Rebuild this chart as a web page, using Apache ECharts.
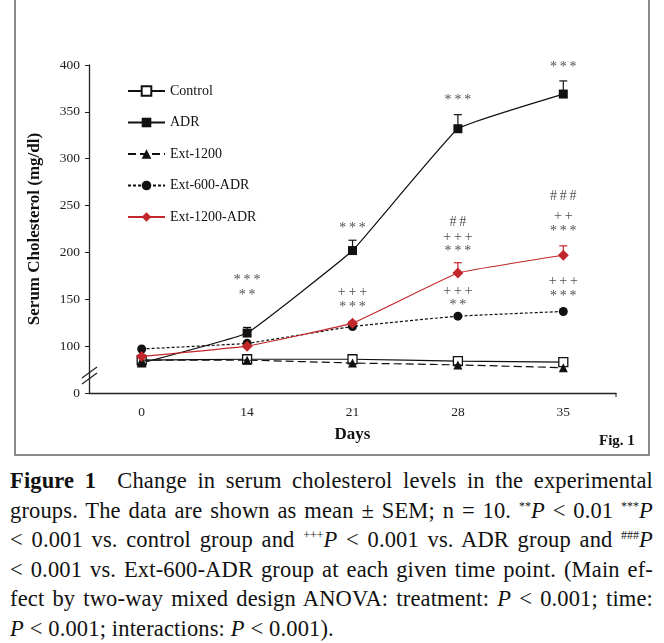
<!DOCTYPE html>
<html>
<head>
<meta charset="utf-8">
<script src="https://cdn.jsdelivr.net/npm/echarts@6/dist/echarts.min.js"></script>
<style>
  html, body { margin: 0; padding: 0; background: #fff; }
  #wrap { position: relative; width: 664px; height: 643px; overflow: hidden; }
  #chart { position: absolute; left: 0; top: 0; width: 664px; height: 462px; }
  #cap { position: absolute; left: 10px; top: 466px; width: 643px; font-family: "Liberation Serif", "DejaVu Serif", serif; font-size: 22.5px; line-height: 29.6px; color: #111; letter-spacing: 0.15px; }
  #cap .ln { text-align: justify; text-align-last: justify; white-space: nowrap; height: 29.6px; }
  #cap .ln.last { text-align-last: left; }
  #cap sup { font-size: 12px; vertical-align: 8px; line-height: 0; letter-spacing: 0; }
  #cap i { font-style: italic; }
</style>
</head>
<body>
<div id="wrap">
  <div id="chart"></div>
  <div id="cap">
    <div class="ln"><b>Figure 1</b>&nbsp; Change in serum cholesterol levels in the experimental</div>
    <div class="ln">groups. The data are shown as mean ± SEM; n = 10. <sup>**</sup><i>P</i> &lt; 0.01 <sup>***</sup><i>P</i></div>
    <div class="ln">&lt; 0.001 vs. control group and <sup>+++</sup><i>P</i> &lt; 0.001 vs. ADR group and <sup>###</sup><i>P</i></div>
    <div class="ln">&lt; 0.001 vs. Ext-600-ADR group at each given time point. (Main ef-</div>
    <div class="ln">fect by two-way mixed design ANOVA: treatment: <i>P</i> &lt; 0.001; time:</div>
    <div class="ln last"><i>P</i> &lt; 0.001; interactions: <i>P</i> &lt; 0.001).</div>
  </div>
</div>
<script>
// ---- data ----
const days = ['0', '14', '21', '28', '35'];
const yTicks = [50, 100, 150, 200, 250, 300, 350, 400]; // 50 drawn as the broken-axis "0"
const control = [85, 86, 86, 84, 83];
const adr = [82, 114, 202, 332, 369];
const ext1200 = [85, 85, 82, 80, 77];
const ext600adr = [97, 103, 121, 132, 137];
const ext1200adr = [89, 100, 124.5, 178, 197];
const adrErr = [2, 6, 11, 15, 14];
const ext1200adrErr = [2, 2, 2, 11, 10];
// significance marks: [day index, value position, text]
const marks = [
  [1, 170, '***'], [1, 154, '**'],
  [2, 225.5, '***'], [2, 157, '+++'], [2, 141.5, '***'],
  [3, 362, '***'], [3, 232, '##'], [3, 216, '+++'], [3, 201, '***'], [3, 158.5, '+++'], [3, 143.5, '**'],
  [4, 397, '***'], [4, 259.5, '###'], [4, 238, '++'], [4, 222, '***'], [4, 169, '+++'], [4, 153, '***']
];

const RED = '#c3272b';
const SERIF = '"Liberation Serif", "DejaVu Serif", serif';

const chart = echarts.init(document.getElementById('chart'), null, { renderer: 'canvas' });

function errSeries(name, means, errs, color) {
  return {
    type: 'custom',
    name: name + '-err',
    silent: true,
    z: 1,
    data: means.map((m, i) => [i, m, m + errs[i]]),
    renderItem: function (params, api) {
      const p0 = api.coord([api.value(0), api.value(1)]);
      const p1 = api.coord([api.value(0), api.value(2)]);
      const w = 4;
      return {
        type: 'group',
        children: [
          { type: 'line', shape: { x1: p0[0], y1: p0[1], x2: p1[0], y2: p1[1] }, style: { stroke: color, lineWidth: 1.2 } },
          { type: 'line', shape: { x1: p1[0] - w, y1: p1[1], x2: p1[0] + w, y2: p1[1] }, style: { stroke: color, lineWidth: 1.2 } }
        ]
      };
    }
  };
}

const lineBase = { type: 'line', smooth: 0.08, symbolSize: 9, z: 3 };

chart.setOption({
  animation: false,
  backgroundColor: '#fff',
  grid: { left: 89, right: 48, top: 65, bottom: 69 },
  legend: {
    data: ['Control', 'ADR', 'Ext-1200', 'Ext-600-ADR', 'Ext-1200-ADR'],
    orient: 'vertical',
    left: 122,
    top: 79,
    itemWidth: 37,
    itemHeight: 12,
    itemGap: 17.5,
    textStyle: { fontFamily: SERIF, fontSize: 14, color: '#111' }
  },
  xAxis: {
    type: 'category',
    data: days,
    boundaryGap: true,
    name: 'Days',
    nameLocation: 'middle',
    nameGap: 33,
    nameTextStyle: { fontFamily: SERIF, fontSize: 17, fontWeight: 'bold', color: '#111' },
    axisLine: { lineStyle: { color: '#222', width: 1.3 } },
    axisTick: { alignWithLabel: true, length: 4, lineStyle: { color: '#222' } },
    axisLabel: { fontFamily: SERIF, fontSize: 13.5, color: '#222', margin: 12 },
    splitLine: { show: false }
  },
  yAxis: {
    type: 'value',
    min: yTicks[0],
    max: yTicks[yTicks.length - 1],
    interval: 50,
    name: 'Serum Cholesterol (mg/dl)',
    nameLocation: 'middle',
    nameGap: 46,
    nameTextStyle: { fontFamily: SERIF, fontSize: 17, fontWeight: 'bold', color: '#111' },
    axisLine: { show: true, lineStyle: { color: '#222', width: 1.3 } },
    axisTick: { show: true, length: 4, lineStyle: { color: '#222' } },
    axisLabel: { fontFamily: SERIF, fontSize: 13.5, color: '#222', margin: 9, formatter: v => (v === yTicks[0] ? '0' : String(v)) },
    splitLine: { show: false }
  },
  series: [
    errSeries('ADR', adr, adrErr, '#111'),
    errSeries('Ext-1200-ADR', ext1200adr, ext1200adrErr, RED),
    Object.assign({}, lineBase, {
      name: 'Control', data: control, symbol: 'rect',
      lineStyle: { color: '#111', width: 1.2 },
      itemStyle: { color: '#fff', borderColor: '#111', borderWidth: 1.3 }, z: 4
    }),
    Object.assign({}, lineBase, {
      name: 'Ext-1200', data: ext1200, symbol: 'triangle',
      lineStyle: { color: '#111', width: 1.2, type: [8, 4] },
      itemStyle: { color: '#111' }, z: 5
    }),
    Object.assign({}, lineBase, {
      name: 'ADR', data: adr, symbol: 'rect',
      lineStyle: { color: '#111', width: 1.2 },
      itemStyle: { color: '#111' }
    }),
    Object.assign({}, lineBase, {
      name: 'Ext-600-ADR', data: ext600adr, symbol: 'circle',
      lineStyle: { color: '#111', width: 1.2, type: [3, 2] },
      itemStyle: { color: '#111' }
    }),
    Object.assign({}, lineBase, {
      name: 'Ext-1200-ADR', data: ext1200adr, symbol: 'diamond', symbolSize: 11,
      lineStyle: { color: RED, width: 1.2 },
      itemStyle: { color: RED }, z: 6
    }),
    {
      type: 'scatter',
      name: 'marks',
      silent: true,
      symbolSize: 0,
      data: marks,
      label: {
        show: true, position: 'inside',
        formatter: p => p.data[2].split('').join('\u2009'),
        fontFamily: SERIF, fontSize: 14, color: '#222'
      },
      z: 7
    }
  ],
  graphic: [
    { type: 'rect', shape: { x: 15, y: -10, width: 634, height: 465 }, style: { fill: null, stroke: '#8a8a8a', lineWidth: 2 }, silent: true },
    { type: 'line', shape: { x1: 82, y1: 384, x2: 97, y2: 373 }, style: { stroke: '#222', lineWidth: 1.2 }, silent: true },
    { type: 'line', shape: { x1: 82, y1: 378, x2: 97, y2: 367 }, style: { stroke: '#222', lineWidth: 1.2 }, silent: true },
    { type: 'line', shape: { x1: 616, y1: 393, x2: 616, y2: 397 }, style: { stroke: '#222', lineWidth: 1 }, silent: true },
    { type: 'text', left: 599, top: 434, style: { text: 'Fig. 1', font: 'bold 15px "Liberation Serif", serif', fill: '#111' }, silent: true }
  ]
});
</script>
</body>
</html>
